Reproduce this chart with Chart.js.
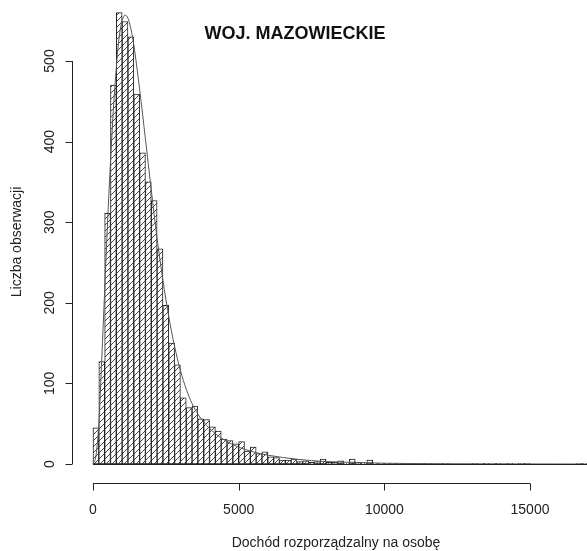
<!DOCTYPE html>
<html><head><meta charset="utf-8">
<script src="https://cdn.jsdelivr.net/npm/chart.js@4/dist/chart.umd.min.js"></script>
<style>html,body{margin:0;padding:0;background:#fff;} #wrap{width:587px;height:551px;position:relative;}</style>
</head><body><div id="wrap"><canvas id="c" width="587" height="551"></canvas></div>
<script>
// ---- data ----
const binWidth = 200; // width of one histogram bin (income units)
const counts = [45,127,311,470,560,549,530,459,386,350,
                327,267,197,150,123,82,70,72,56,55,
                46,41,31,29,25,28,16,21,13,15,
                9,8,5,5,6,3,4,2,3,6,
                2,2,4,1,6,2,1,5,1,1,
                1,1,1,1,1,1,1,1,0,1,
                1,0,0,0,0,1,0,1,0,1,
                0,1,0,1,1,0,0,0,0,0,
                0,0,0,1,1];
const curveX = [0,100,200,300,400,500,600,700,800,900,1000,1100,1200,1300,1400,1600,1800,2000,2200,2400,2600,2800,3000,3200,3400,3600,3800,4000,4500,5000,5500,6000,7000,8000,9000,10000,12000,15000,16900];
const curveY = [0,10,50,130,215,300,375,440,492,530,550,557,553,540,520,465,403,340,280,228,183,146,116,93,75,62,52,44,30,21,15,11,6,3,2,1,0.4,0.1,0];
const xTicks = [0,5000,10000,15000];
const yTicks = [0,100,200,300,400,500];
const titleText = 'WOJ. MAZOWIECKIE';
const xTitle = 'Dochód rozporządzalny na osobę';
const yTitle = 'Liczba obserwacji';

// ---- hatch pattern ----
function hatch(){
  const s = 6, c = document.createElement('canvas');
  c.width = s; c.height = s;
  const g = c.getContext('2d');
  g.fillStyle = '#fff'; g.fillRect(0,0,s,s);
  g.strokeStyle = '#333'; g.lineWidth = 0.9;
  g.beginPath();
  g.moveTo(0,s); g.lineTo(s,0);
  g.moveTo(-1,1); g.lineTo(1,-1);
  g.moveTo(s-1,s+1); g.lineTo(s+1,s-1);
  g.stroke();
  return g.createPattern(c,'repeat');
}
const ctx0 = document.getElementById('c').getContext('2d');
const pattern = hatch();

const barData = counts.map((c,i)=>({x: i*binWidth + binWidth/2, y: c}));
const lineData = curveX.map((x,i)=>({x: x, y: curveY[i]}));

const FONT = '"Liberation Sans", Arial, sans-serif';
const TXT = '#222';

const axesPlugin = {
  id: 'rAxes',
  afterDraw(chart){
    const {ctx, chartArea} = chart;
    const xs = chart.scales.x, ys = chart.scales.y;
    ctx.save();
    ctx.strokeStyle = '#222'; ctx.lineWidth = 1; ctx.fillStyle = TXT;
    // zero-height bins baseline
    const y0 = Math.round(ys.getPixelForValue(0)) + 0.5;
    ctx.beginPath();
    ctx.moveTo(xs.getPixelForValue(0), y0);
    ctx.lineTo(Math.min(chartArea.right, xs.getPixelForValue(counts.length*binWidth)), y0);
    ctx.stroke();
    // y axis
    const ax = chartArea.left + 0.5;
    ctx.beginPath();
    ctx.moveTo(ax, ys.getPixelForValue(yTicks[0]));
    ctx.lineTo(ax, ys.getPixelForValue(yTicks[yTicks.length-1]));
    yTicks.forEach(v=>{ const p = Math.round(ys.getPixelForValue(v))+0.5; ctx.moveTo(ax,p); ctx.lineTo(ax-7,p); });
    ctx.stroke();
    ctx.font = '14px ' + FONT;
    ctx.textAlign = 'center'; ctx.textBaseline = 'middle';
    yTicks.forEach(v=>{
      const p = ys.getPixelForValue(v);
      ctx.save(); ctx.translate(50, p); ctx.rotate(-Math.PI/2);
      ctx.fillText(String(v), 0, 0); ctx.restore();
    });
    // x axis
    const ay = chartArea.bottom + 1.5;
    ctx.beginPath();
    ctx.moveTo(xs.getPixelForValue(xTicks[0]), ay);
    ctx.lineTo(xs.getPixelForValue(xTicks[xTicks.length-1]), ay);
    xTicks.forEach(v=>{ const p = Math.round(xs.getPixelForValue(v))+0.5; ctx.moveTo(p,ay); ctx.lineTo(p,ay+7); });
    ctx.stroke();
    xTicks.forEach(v=>{ ctx.fillText(String(v), xs.getPixelForValue(v), 510); });
    // titles
    ctx.fillText(xTitle, 336, 543);
    ctx.save(); ctx.translate(17, 242); ctx.rotate(-Math.PI/2); ctx.fillText(yTitle, 0, 0); ctx.restore();
    ctx.font = 'bold 18px ' + FONT;
    ctx.fillStyle = '#111';
    ctx.fillText(titleText, 295, 34);
    ctx.restore();
  }
};

new Chart(ctx0, {
  type: 'bar',
  data: {
    datasets: [
      { type: 'line', data: lineData, borderColor: '#555', borderWidth: 1, pointRadius: 0,
        tension: 0.4, cubicInterpolationMode: 'monotone', fill: false, order: 0 },
      { type: 'bar', data: barData, backgroundColor: pattern, borderColor: '#222', borderWidth: 1,
        borderSkipped: false, barPercentage: 1, categoryPercentage: 1, order: 1 }
    ]
  },
  options: {
    responsive: false, animation: false, devicePixelRatio: 1,
    layout: { padding: { left: 72, right: 0, top: 0, bottom: 69 } },
    plugins: { legend: { display: false }, tooltip: { enabled: false }, title: { display: false } },
    scales: {
      x: { type: 'linear', min: -721, max: 16956, display: false, offset: false },
      y: { type: 'linear', min: -22.3, max: 575.7, display: false }
    }
  },
  plugins: [axesPlugin]
});
</script>
</body></html>
